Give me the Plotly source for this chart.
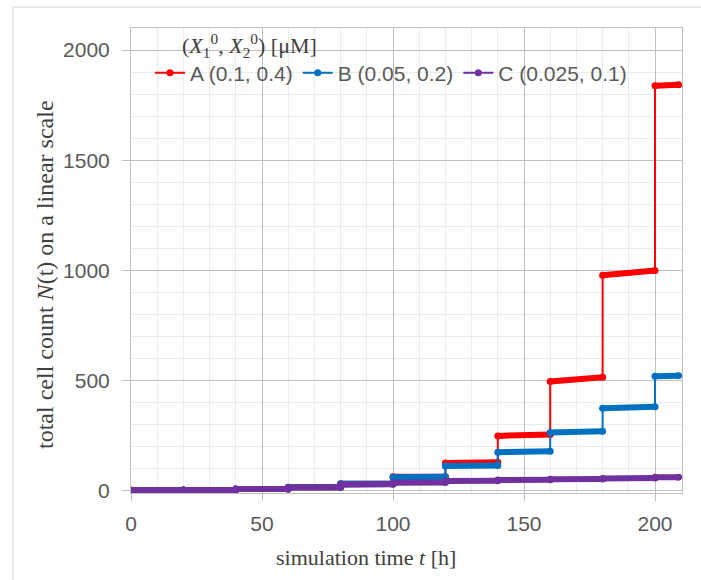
import plotly.graph_objects as go

# ---- data ----
t_edges = [0, 20, 40, 60, 80, 100, 120, 140, 160, 180, 200, 209]
A_start = [2, 4, 8, 16, 32, 64, 126, 249, 496, 978, 1838]
A_end   = [2, 4, 8, 16, 32, 64, 129, 256, 515, 1000, 1842]
B_start = [2, 4, 8, 16, 32, 62, 112, 175, 265, 375, 520]
B_end   = [2, 4, 8, 16, 32, 64, 115, 180, 270, 381, 522]
C_start = [2, 4, 8, 15, 28, 36, 44, 49, 52, 56, 61]
C_end   = [2, 4, 8, 16, 30, 38, 46, 50, 54, 58, 62]

series_names = ["A (0.1, 0.4)", "B (0.05, 0.2)", "C (0.025, 0.1)"]
series_colors = ["#ff0000", "#0070c0", "#7030a0"]
x_ticks = [0, 50, 100, 150, 200]
y_ticks = [0, 500, 1000, 1500, 2000]


def step_path(starts, ends):
    xs, ys = [], []
    for i in range(len(starts)):
        xs += [t_edges[i], t_edges[i + 1]]
        ys += [starts[i], ends[i]]
    return xs, ys


def plateaus(starts, ends):
    xs, ys = [], []
    for i in range(len(starts)):
        xs += [t_edges[i], t_edges[i + 1], None]
        ys += [starts[i], ends[i], None]
    return xs, ys


fig = go.Figure()
for name, col, s, e in zip(series_names, series_colors,
                           [A_start, B_start, C_start], [A_end, B_end, C_end]):
    xs, ys = step_path(s, e)
    fig.add_trace(go.Scatter(x=xs, y=ys, name=name, mode="lines+markers",
                             line=dict(color=col, width=2),
                             marker=dict(color=col, size=7)))
    px_, py_ = plateaus(s, e)
    fig.add_trace(go.Scatter(x=px_, y=py_, mode="lines", showlegend=False,
                             hoverinfo="skip",
                             line=dict(color=col, width=6)))

W, H = 701, 580
L, R, T, B = 131, 19, 28, 87
pw, ph = W - L - R, H - T - B


def px(x):
    return (x - L) / pw


def py(y):
    return (H - B - y) / ph


tickfont = dict(family="Liberation Sans, Arial, sans-serif", size=21, color="#595959")
serif = "Liberation Serif, Times New Roman, serif"

fig.update_layout(
    width=W, height=H,
    margin=dict(l=L, r=R, t=T, b=B, autoexpand=False),
    paper_bgcolor="white", plot_bgcolor="white",
    showlegend=True,
    legend=dict(orientation="h", x=px(150), xanchor="left", y=py(73), yanchor="middle",
                bgcolor="rgba(0,0,0,0)", font=dict(family="Liberation Sans, Arial, sans-serif",
                                                   size=21, color="#595959"),
                itemwidth=30, tracegroupgap=0),
    xaxis=dict(range=[0, 210.3], tickmode="array", tickvals=x_ticks,
               ticktext=[str(v) for v in x_ticks], tickfont=tickfont,
               showgrid=True, gridcolor="#bfbfbf", gridwidth=1,
               minor=dict(dtick=10, showgrid=True, gridcolor="#ececec", gridwidth=1),
               showline=True, linecolor="#bfbfbf", mirror=True,
               ticks="outside", ticklen=7, tickcolor="#bfbfbf",
               ticklabelstandoff=5, zeroline=False),
    yaxis=dict(range=[-10, 2100], tickmode="array", tickvals=y_ticks,
               ticktext=[str(v) for v in y_ticks], tickfont=tickfont,
               showgrid=True, gridcolor="#bfbfbf", gridwidth=1,
               minor=dict(dtick=100, tick0=0, showgrid=True, gridcolor="#ececec", gridwidth=1),
               showline=True, linecolor="#bfbfbf", mirror=True,
               ticks="outside", ticklen=8, tickcolor="#bfbfbf",
               ticklabelstandoff=8, zeroline=False),
    shapes=[dict(type="rect", xref="paper", yref="paper",
                 x0=px(13), x1=px(760), y0=py(640), y1=py(7),
                 line=dict(color="#d9d9d9", width=1), layer="below")],
    annotations=[
        dict(text="total cell count <i>N</i>(t) on a linear scale", textangle=-90,
             xref="paper", yref="paper", x=px(45), y=py(275),
             xanchor="center", yanchor="middle", showarrow=False,
             font=dict(family=serif, size=24, color="#404040")),
        dict(text="simulation time <i>t</i> [h]",
             xref="paper", yref="paper", x=px(366), y=py(558),
             xanchor="center", yanchor="middle", showarrow=False,
             font=dict(family=serif, size=22, color="#404040")),
        dict(text="(<i>X</i><sub>1</sub><sup>0</sup>, <i>X</i><sub>2</sub><sup>0</sup>) [μM]",
             xref="paper", yref="paper", x=px(180), y=py(46),
             xanchor="left", yanchor="middle", showarrow=False,
             font=dict(family=serif, size=22, color="#404040")),
    ],
)

fig.write_html("out.html")
